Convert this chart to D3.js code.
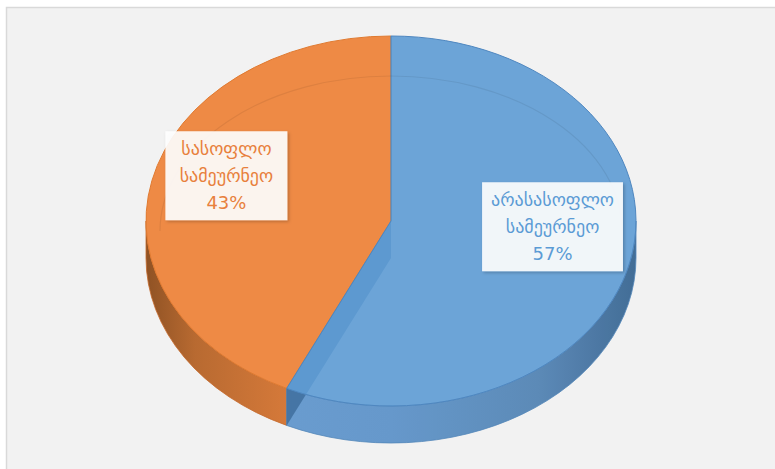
<!DOCTYPE html>
<html lang="ka">
<head>
    <meta charset="utf-8"/>
    <title>D3.js - 3D pie</title>
    <script src="https://d3js.org/d3.v7.min.js"></script>
    <style>
        body { margin: 0; background: #ffffff; }
        svg { display: block; }
        .lbl { font-family: "DejaVu Sans", sans-serif; font-size: 18px; }
    </style>
</head>
<body>
<div id="viz"></div>

<script type="text/javascript">

    // datos
    const categories = ["არასასოფლო სამეურნეო", "სასოფლო სამეურნეო"];
    const values = [57, 43];
    const colors = ["#5d9bd4", "#ee8a45"];
    const textColors = ["#5b9bd5", "#e8803c"];

    // dimensiones
    const width = 775, height = 469;
    const cx = 391, cy = 221, rx = 245, ry = 185, depth = 37;

    const svg = d3.select("#viz").append("svg")
        .attr("width", width).attr("height", height);

    const defs = svg.append("defs");

    // sombra para las etiquetas
    const shadow = defs.append("filter").attr("id", "sh")
        .attr("x", "-10%").attr("y", "-10%").attr("width", "130%").attr("height", "130%");
    shadow.append("feDropShadow").attr("dx", 1.5).attr("dy", 1.5)
        .attr("stdDeviation", 1.5).attr("flood-color", "#000").attr("flood-opacity", 0.25);

    // gradientes de los lados
    function sideGradient(id, stops) {
        let g = defs.append("linearGradient").attr("id", id)
            .attr("gradientUnits", "userSpaceOnUse")
            .attr("x1", cx - rx).attr("x2", cx + rx).attr("y1", 0).attr("y2", 0);
        stops.forEach(s => g.append("stop").attr("offset", s[0]).attr("stop-color", s[1]));
    }
    sideGradient("sideBlue", [[0, "#6a9fd3"], [0.5, "#6296ca"], [0.8, "#5887b6"], [1, "#3d6994"]]);
    sideGradient("sideOrange", [[0, "#8f5224"], [0.1, "#b86a31"], [0.3, "#d77a3a"], [1, "#e0823f"]]);

    // marco del gráfico
    svg.append("rect")
        .attr("x", 6.5).attr("y", 7.5)
        .attr("width", width).attr("height", height)
        .attr("fill", "#f2f2f2").attr("stroke", "#d9d9d9").attr("stroke-width", 1.5);

    // escala: ángulo -> punto sobre la elipse
    function pt(a, dy) {
        return [cx + rx * Math.sin(a), cy - ry * Math.cos(a) + (dy || 0)];
    }

    const pie = d3.pie().sort(null).value(d => d)(values);

    function topPath(d) {
        let p0 = pt(d.startAngle), p1 = pt(d.endAngle);
        let large = (d.endAngle - d.startAngle) > Math.PI ? 1 : 0;
        return "M" + cx + "," + cy + "L" + p0 + "A" + rx + "," + ry + " 0 " + large + " 1 " + p1 + "Z";
    }

    function sidePath(a0, a1) {
        let p0 = pt(a0), p1 = pt(a1), q0 = pt(a0, depth), q1 = pt(a1, depth);
        return "M" + p0 + "A" + rx + "," + ry + " 0 0 1 " + p1 +
            "L" + q1 + "A" + rx + "," + ry + " 0 0 0 " + q0 + "Z";
    }

    // lados visibles (parte frontal entre 90° y 270°)
    const front0 = Math.PI / 2, front1 = Math.PI * 3 / 2;
    const sides = ["url(#sideBlue)", "url(#sideOrange)"];

    // primero el naranja (atrás)
    [1, 0].forEach(i => {
        let d = pie[i];
        let a0 = Math.max(d.startAngle, front0), a1 = Math.min(d.endAngle, front1);
        if (a1 > a0) {
            svg.append("path")
                .attr("d", sidePath(a0, a1))
                .attr("fill", sides[i])
                .attr("stroke", i === 0 ? "#4f84b8" : "#c56a2c")
                .attr("stroke-width", 0.8)
                .attr("opacity", i === 0 ? 0.97 : 1);
        }
    });

    // tapa naranja
    svg.append("path")
        .attr("d", topPath(pie[1]))
        .attr("fill", colors[1])
        .attr("stroke", "#e07a30")
        .attr("stroke-width", 1);

    // pared del corte (se ve a través del azul)
    let split = pie[0].endAngle;
    let ps = pt(split), qs = pt(split, depth);
    svg.append("path")
        .attr("d", "M" + cx + "," + cy + "L" + ps + "L" + qs + "L" + cx + "," + (cy + depth) + "Z")
        .attr("fill", "#3f6f9e")
        .attr("opacity", 0.85);

    // tapa azul, algo transparente
    svg.append("path")
        .attr("d", topPath(pie[0]))
        .attr("fill", colors[0])
        .attr("fill-opacity", 0.9)
        .attr("stroke", "#4f87c0")
        .attr("stroke-width", 1);

    // brillo del bisel superior
    let irx = rx - 14, iry = ry - 30, icy = cy + 10;
    svg.append("path")
        .attr("d", "M" + (cx - irx) + "," + icy + "A" + irx + "," + iry + " 0 0 1 " + (cx + irx) + "," + icy)
        .attr("fill", "none")
        .attr("stroke", "#000")
        .attr("stroke-opacity", 0.07)
        .attr("stroke-width", 1.2);

    // etiquetas
    const labelAngles = [92.7, 290];
    const labelFrac = [0.66, 0.715];
    const pad = 9, lineH = 27;

    pie.forEach((d, i) => {
        let a = labelAngles[i] * Math.PI / 180;
        let lx = cx + rx * labelFrac[i] * Math.sin(a);
        let ly = cy - ry * labelFrac[i] * Math.cos(a);
        let lines = categories[i].split(" ").concat([Math.round(d.value) + "%"]);

        let g = svg.append("g").attr("transform", "translate(" + lx + "," + ly + ")");
        let box = g.append("rect");
        let t = g.append("text").attr("class", "lbl")
            .attr("text-anchor", "middle")
            .attr("fill", textColors[i]);
        lines.forEach((s, k) => {
            t.append("tspan").attr("x", 0)
                .attr("y", (k - (lines.length - 1) / 2) * lineH + 6)
                .text(s);
        });
        let bb = t.node().getBBox();
        let w = Math.max(bb.width + pad * 2, 122);
        box.attr("x", -w / 2).attr("y", -lines.length * lineH / 2 - 4)
            .attr("width", w).attr("height", lines.length * lineH + 8)
            .attr("fill", "#ffffff").attr("fill-opacity", 0.9)
            .attr("filter", "url(#sh)");
    });

</script>
</body>
</html>
